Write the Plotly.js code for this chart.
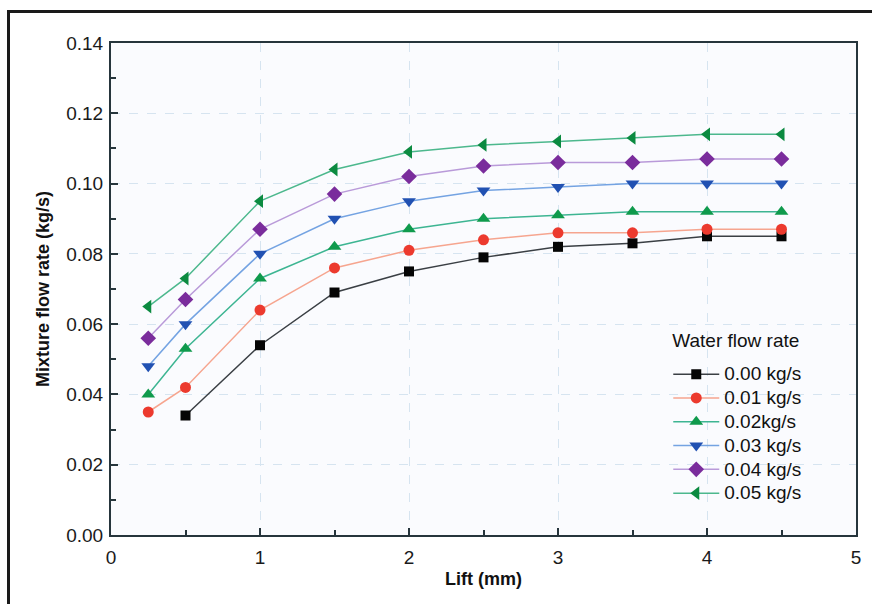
<!DOCTYPE html>
<html><head><meta charset="utf-8">
<script src="https://cdn.plot.ly/plotly-3.0.1.min.js"></script>
<style>
html,body{margin:0;padding:0;background:#fff;}
#chart{width:872px;height:604px;}
#frame{position:absolute;left:7px;top:10px;width:880px;height:620px;border-left:3px solid #1a1a1a;border-top:3px solid #1a1a1a;pointer-events:none;}
#chart .legendtext{font-size:19px !important;}
#chart .legendtitletext{font-size:19px !important; transform: translate(2px,-10px);}
</style></head>
<body>
<div id="chart"></div>
<div id="frame"></div>
<script>
const lift = [0.25, 0.5, 1, 1.5, 2, 2.5, 3, 3.5, 4, 4.5];
const liftW0 = [0.5, 1, 1.5, 2, 2.5, 3, 3.5, 4, 4.5];
const w000 = [0.034, 0.054, 0.069, 0.075, 0.079, 0.082, 0.083, 0.085, 0.085];
const w001 = [0.035, 0.042, 0.064, 0.076, 0.081, 0.084, 0.086, 0.086, 0.087, 0.087];
const w002 = [0.040, 0.053, 0.073, 0.082, 0.087, 0.090, 0.091, 0.092, 0.092, 0.092];
const w003 = [0.048, 0.060, 0.080, 0.090, 0.095, 0.098, 0.099, 0.100, 0.100, 0.100];
const w004 = [0.056, 0.067, 0.087, 0.097, 0.102, 0.105, 0.106, 0.106, 0.107, 0.107];
const w005 = [0.065, 0.073, 0.095, 0.104, 0.109, 0.111, 0.112, 0.113, 0.114, 0.114];
const seriesNames = ["0.00 kg/s", "0.01 kg/s", "0.02kg/s", "0.03 kg/s", "0.04 kg/s", "0.05 kg/s"];
const xTicks = [0, 1, 2, 3, 4, 5];
const xTickText = ['0', '1', '2', '3', '4', '5'];
const yTicks = [0, 0.02, 0.04, 0.06, 0.08, 0.10, 0.12, 0.14];
const yTickText = ['0.00', '0.02', '0.04', '0.06', '0.08', '0.10', '0.12', '0.14'];

const FONT = 'Liberation Sans, Arial, sans-serif';
function tr(x, y, name, symbol, mcol, lcol, size) {
  return {x: x, y: y, name: name, type: 'scatter', mode: 'lines+markers',
    line: {color: lcol, width: 1.5},
    marker: {symbol: symbol, color: mcol, size: size, line: {width: 0}}};
}
const data = [
  tr(liftW0, w000, seriesNames[0], 'square', '#050505', '#3a3f44', 10),
  tr(lift, w001, seriesNames[1], 'circle', '#ec3a2e', '#f6a58f', 11),
  tr(lift, w002, seriesNames[2], 'triangle-up', '#0f9a4c', '#3db592', 12),
  tr(lift, w003, seriesNames[3], 'triangle-down', '#2151b2', '#74a3e2', 12),
  tr(lift, w004, seriesNames[4], 'diamond', '#7a2c9c', '#b99ad9', 12),
  tr(lift, w005, seriesNames[5], 'triangle-left', '#0b8a40', '#4cb88d', 12)
];
const axisCommon = {
  showline: true, linecolor: '#26353c', linewidth: 2, mirror: true,
  ticks: 'inside', ticklen: 7, tickwidth: 2, tickcolor: '#26353c',
  showgrid: true, gridcolor: '#d6e4f0', gridwidth: 1, griddash: 'dash',
  zeroline: false,
  tickfont: {family: FONT, size: 19, color: '#1a1a1a'}
};
const layout = {
  width: 872, height: 604,
  margin: {l: 111, r: 16, t: 43, b: 69},
  paper_bgcolor: '#ffffff', plot_bgcolor: '#fafbfe',
  showlegend: true,
  xaxis: Object.assign({}, axisCommon, {
    range: [0, 5], tickvals: xTicks, ticktext: xTickText,
    ticklabelstandoff: 4,
    minor: {tickvals: [0.5, 1.5, 2.5, 3.5, 4.5], ticks: 'inside', ticklen: 5, tickwidth: 2, tickcolor: '#26353c', showgrid: false},
    title: {text: 'Lift (mm)', standoff: 6, font: {family: FONT, size: 18, color: '#111', weight: 'bold'}}
  }),
  yaxis: Object.assign({}, axisCommon, {
    range: [0, 0.14], tickvals: yTicks, ticktext: yTickText,
    ticklabelstandoff: 2,
    minor: {tickvals: [0.01, 0.03, 0.05, 0.07, 0.09, 0.11, 0.13], ticks: 'inside', ticklen: 5, tickwidth: 2, tickcolor: '#26353c', showgrid: false},
    title: {text: 'Mixture flow rate (kg/s)', standoff: 12, font: {family: FONT, size: 18, color: '#111', weight: 'bold'}}
  }),
  legend: {
    x: 0.748, y: 0.43, xanchor: 'left', yanchor: 'top',
    bgcolor: 'rgba(0,0,0,0)', borderwidth: 0, tracegroupgap: 0,
    itemwidth: 46,
    title: {text: 'Water flow rate', font: {family: FONT, size: 26, color: '#111'}},
    font: {family: FONT, size: 16, color: '#111'}
  }
};
Plotly.newPlot('chart', data, layout, {displayModeBar: false, staticPlot: true});
</script>
</body></html>
